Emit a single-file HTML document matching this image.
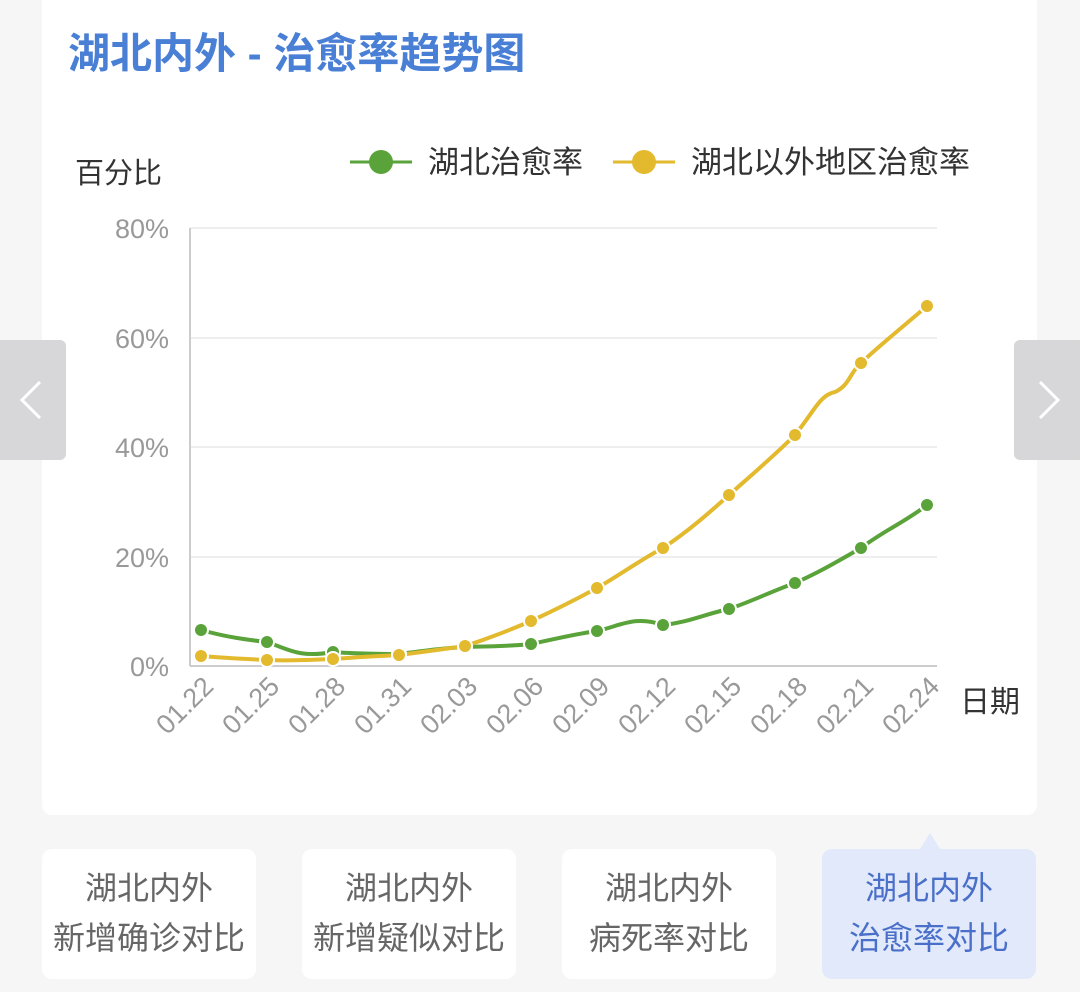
<!DOCTYPE html>
<html><head><meta charset="utf-8"><style>
body{margin:0;width:1080px;height:992px;background:#f6f6f7;font-family:"Liberation Sans","Noto Sans CJK SC",sans-serif;position:relative;overflow:hidden}
.card{position:absolute;left:42px;top:0;width:995px;height:815px;background:#fff;border-radius:0 0 10px 10px}
.title{position:absolute;left:68px;top:20px;font-size:42px;font-weight:bold;color:#4a7fd6;white-space:nowrap}
.arr{position:absolute;top:340px;width:66px;height:120px;background:#d7d7d9}
.btn{position:absolute;top:849px;width:214px;height:130px;background:#fff;border-radius:10px;text-align:center;font-size:32px;color:#666;line-height:50px;padding-top:14px;box-sizing:border-box;white-space:nowrap}
.act{background:#e1e9fb;color:#4a6fc9}
</style></head><body>
<div class="card"></div>
<div class="title">湖北内外 - 治愈率趋势图</div>
<div class="arr" style="left:0;border-radius:0 6px 6px 0"><svg width="66" height="120"><polyline points="40,382 22,400 40,418" transform="translate(0,-340)" fill="none" stroke="#fff" stroke-width="3"/></svg></div>
<div class="arr" style="left:1014px;border-radius:6px 0 0 6px"><svg width="66" height="120"><polyline points="26,42 44,60 26,78" fill="none" stroke="#fff" stroke-width="3"/></svg></div>
<svg width="1080" height="992" style="position:absolute;left:0;top:0" font-family="Liberation Sans, Noto Sans CJK SC, sans-serif">
<text x="75" y="183" font-size="29" fill="#333">百分比</text>
<line x1="350" y1="162" x2="412" y2="162" stroke="#5aa33a" stroke-width="3"/><circle cx="381" cy="162" r="12" fill="#5aa33a"/>
<text x="428" y="173" font-size="31" fill="#333">湖北治愈率</text>
<line x1="613" y1="162" x2="675" y2="162" stroke="#e3b92e" stroke-width="3"/><circle cx="644" cy="162" r="12" fill="#e3b92e"/>
<text x="691" y="173" font-size="31" fill="#333">湖北以外地区治愈率</text>
<g stroke="#eee" stroke-width="2"><line x1="190" y1="228" x2="937" y2="228"/><line x1="190" y1="338" x2="937" y2="338"/><line x1="190" y1="447" x2="937" y2="447"/><line x1="190" y1="557" x2="937" y2="557"/></g>
<line x1="190" y1="228" x2="190" y2="666" stroke="#ccc" stroke-width="2"/>
<line x1="190" y1="666" x2="937" y2="666" stroke="#ccc" stroke-width="2"/>
<g font-size="27" fill="#999" text-anchor="end"><text x="169" y="238">80%</text><text x="169" y="348">60%</text><text x="169" y="457">40%</text><text x="169" y="567">20%</text><text x="169" y="676">0%</text></g>
<g font-size="27" fill="#999" text-anchor="end">
<text transform="translate(215,688) rotate(-45)">01.22</text><text transform="translate(281,688) rotate(-45)">01.25</text><text transform="translate(347,688) rotate(-45)">01.28</text><text transform="translate(413,688) rotate(-45)">01.31</text><text transform="translate(479,688) rotate(-45)">02.03</text><text transform="translate(545,688) rotate(-45)">02.06</text><text transform="translate(611,688) rotate(-45)">02.09</text><text transform="translate(677,688) rotate(-45)">02.12</text><text transform="translate(743,688) rotate(-45)">02.15</text><text transform="translate(809,688) rotate(-45)">02.18</text><text transform="translate(875,688) rotate(-45)">02.21</text><text transform="translate(941,688) rotate(-45)">02.24</text></g>
<text x="960" y="712" font-size="30" fill="#333">日期</text>
<path d="M201,630 C230,638 250,640 267,642 C290,650 300,658 333,652 C360,654 380,654 399,654 C430,650 445,648 465,647 C500,646 515,646 531,644 C560,638 575,634 597,631 C620,626 635,615 663,625 C690,622 705,614 729,609 C755,600 770,592 795,583 C820,572 840,560 861,548 C885,530 905,522 927,505" fill="none" stroke="#5aa33a" stroke-width="4"/>
<path d="M201,656 C225,658 245,659 267,660 C290,661 310,660 333,659 C360,657 380,656 399,655 C430,651 445,649 465,646 C490,638 510,630 531,621 C555,610 575,600 597,588 C620,575 640,560 663,548 C690,530 710,512 729,495 C755,472 775,455 795,435 C815,410 820,395 835,392 C850,385 850,372 861,363 C880,345 905,325 927,306" fill="none" stroke="#e3b92e" stroke-width="4"/>
<g fill="#5aa33a" stroke="#fff" stroke-width="2"><circle cx="201" cy="630" r="7"/><circle cx="267" cy="642" r="7"/><circle cx="333" cy="652" r="7"/><circle cx="399" cy="654" r="7"/><circle cx="465" cy="647" r="7"/><circle cx="531" cy="644" r="7"/><circle cx="597" cy="631" r="7"/><circle cx="663" cy="625" r="7"/><circle cx="729" cy="609" r="7"/><circle cx="795" cy="583" r="7"/><circle cx="861" cy="548" r="7"/><circle cx="927" cy="505" r="7"/></g>
<g fill="#e3b92e" stroke="#fff" stroke-width="2"><circle cx="201" cy="656" r="7"/><circle cx="267" cy="660" r="7"/><circle cx="333" cy="659" r="7"/><circle cx="399" cy="655" r="7"/><circle cx="465" cy="646" r="7"/><circle cx="531" cy="621" r="7"/><circle cx="597" cy="588" r="7"/><circle cx="663" cy="548" r="7"/><circle cx="729" cy="495" r="7"/><circle cx="795" cy="435" r="7"/><circle cx="861" cy="363" r="7"/><circle cx="927" cy="306" r="7"/></g>
<polygon points="920,849 930,833 940,849" fill="#e1e9fb"/>
</svg>
<div class="btn" style="left:42px">湖北内外<br>新增确诊对比</div>
<div class="btn" style="left:302px">湖北内外<br>新增疑似对比</div>
<div class="btn" style="left:562px">湖北内外<br>病死率对比</div>
<div class="btn act" style="left:822px">湖北内外<br>治愈率对比</div>
</body></html>
